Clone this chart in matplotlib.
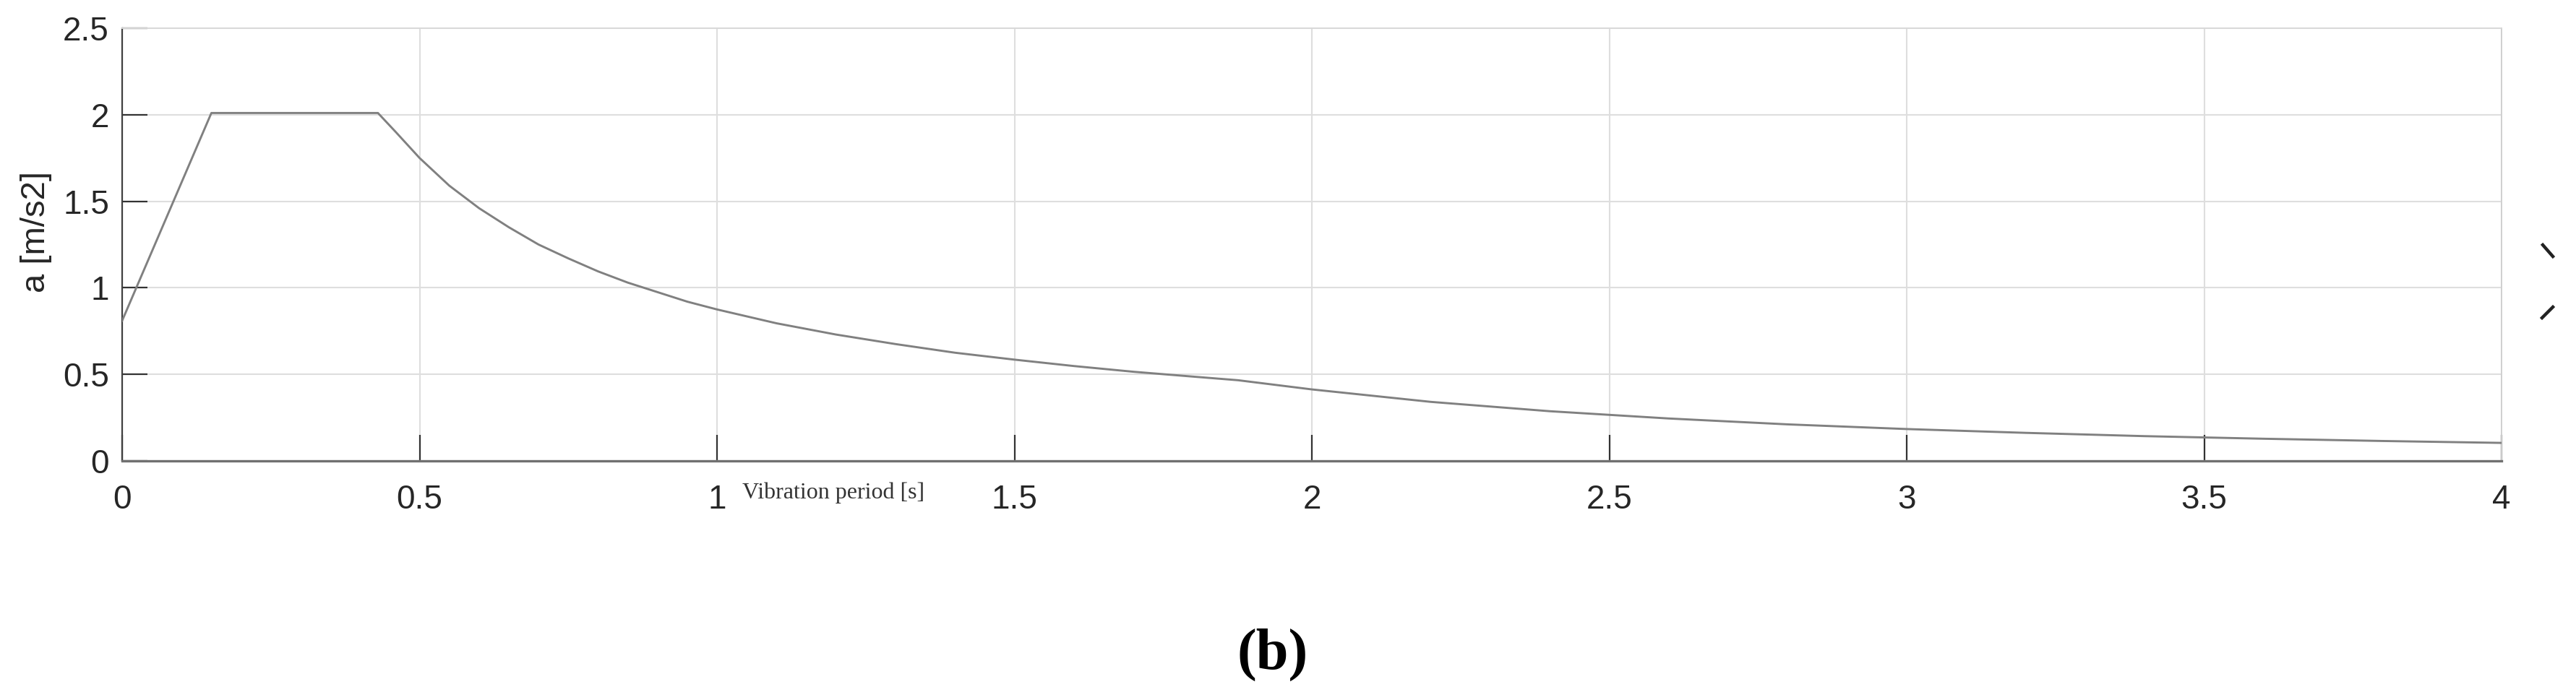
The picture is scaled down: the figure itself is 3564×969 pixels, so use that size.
import matplotlib
matplotlib.use("Agg")
import matplotlib.pyplot as plt
from matplotlib.lines import Line2D

# response spectrum
period_s = [0.0, 0.15, 0.43, 0.46, 0.5, 0.55, 0.6, 0.65, 0.7, 0.75, 0.8,
            0.85, 0.9, 0.95, 1.0, 1.1, 1.2, 1.3, 1.4, 1.5, 1.6, 1.7, 1.8,
            1.876, 2.0, 2.2, 2.4, 2.6, 2.8, 3.0, 3.2, 3.4, 3.6, 3.8, 4.0]
accel = [0.81, 2.01, 2.01, 1.90, 1.75, 1.59, 1.46, 1.35, 1.25, 1.17, 1.095,
         1.03, 0.975, 0.92, 0.875, 0.795, 0.73, 0.675, 0.625, 0.585, 0.548,
         0.515, 0.487, 0.466, 0.413, 0.341, 0.287, 0.245, 0.211, 0.184,
         0.162, 0.143, 0.128, 0.115, 0.104]

x_ticks = [0, 0.5, 1, 1.5, 2, 2.5, 3, 3.5, 4]
x_tick_labels = ["0", "0.5", "1", "1.5", "2", "2.5", "3", "3.5", "4"]
y_ticks = [0, 0.5, 1, 1.5, 2, 2.5]
y_tick_labels = ["0", "0.5", "1", "1.5", "2", "2.5"]

W, H, DPI = 3564, 969, 100
fig = plt.figure(figsize=(W / DPI, H / DPI), dpi=DPI)
ax = fig.add_axes([169 / W, 1 - 638 / H, (3461 - 169) / W, (638 - 39) / H])

ax.plot(period_s, accel, color="#808080", lw=2.1, solid_joinstyle="round", zorder=3)

ax.set_xlim(0, 4)
ax.set_ylim(0, 2.5)
ax.set_xticks(x_ticks)
ax.set_xticklabels(x_tick_labels)
ax.set_yticks(y_ticks)
ax.set_yticklabels(y_tick_labels)

ax.grid(True, color="#dedede", lw=1.5)
ax.set_axisbelow(True)

for lab in ax.get_xticklabels() + ax.get_yticklabels():
    lab.set_fontfamily("Liberation Sans")
    lab.set_fontsize(33)
    lab.set_color("#262626")

ax.tick_params(axis="x", direction="in", length=26, width=1.6, color="#333333", pad=23,
               top=False)
ax.tick_params(axis="y", direction="in", length=25, width=1.6, color="#333333", pad=13,
               right=False)

ax.spines["left"].set_color("#404040")
ax.spines["left"].set_linewidth(1.6)
ax.spines["bottom"].set_color("#707070")
ax.spines["bottom"].set_linewidth(2.4)
ax.spines["top"].set_color("#d8d8d8")
ax.spines["top"].set_linewidth(1.4)
ax.spines["right"].set_color("#d0d0d0")
ax.spines["right"].set_linewidth(1.4)

ax.set_ylabel("a [m/s2]", family="Liberation Sans", fontsize=34, color="#262626")
ax.yaxis.set_label_coords(-0.0295, 0.53)

# x label sits inline next to the "1" tick label
ax.text(1.042, -0.05, "Vibration period [s]", transform=ax.get_xaxis_transform(),
        family="Liberation Serif", fontsize=23, color="#333333", ha="left", va="top")

fig.text(1761 / W, 1 - 906 / H, "(b)", family="Liberation Serif", fontweight="bold",
         fontsize=58, ha="center", va="center", color="black")

# clipped chevron at the right edge
for (x0, y0), (x1, y1) in [((3518, 339), (3532, 355)), ((3517, 440), (3532, 425))]:
    fig.add_artist(Line2D([x0 / W, x1 / W], [1 - y0 / H, 1 - y1 / H],
                          transform=fig.transFigure, color="#222222", lw=3.2))

fig.savefig("out.png", dpi=DPI, facecolor="white")
